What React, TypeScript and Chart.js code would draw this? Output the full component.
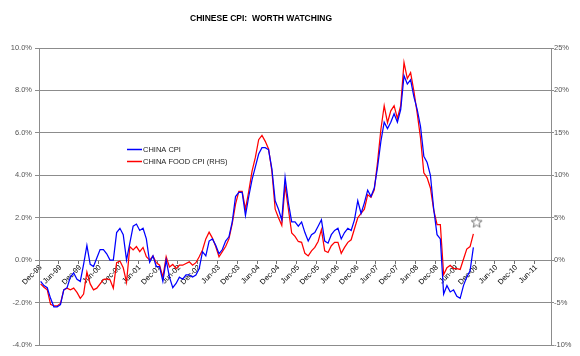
import React, { useEffect, useRef } from 'react';
import { Chart, registerables } from 'chart.js';

Chart.register(...registerables);

// ---- Categories (monthly, Dec-98 .. Oct-11) ----
const MONTH_NAMES = ['Jan', 'Feb', 'Mar', 'Apr', 'May', 'Jun', 'Jul', 'Aug', 'Sep', 'Oct', 'Nov', 'Dec'];
const START_YEAR = 1998;
const START_MONTH = 11; // Dec
const CATEGORY_COUNT = 155;
const LABEL_EVERY = 6;
const categories: string[] = Array.from({ length: CATEGORY_COUNT }, (_, i) => {
  const m = (START_MONTH + i) % 12;
  const y = START_YEAR + Math.floor((START_MONTH + i) / 12);
  return `${MONTH_NAMES[m]}-${String(y % 100).padStart(2, '0')}`;
});

// ---- China CPI, y/y % (left axis), Dec-98 .. Nov-09 ----
const cpi1998 = [-1.0];
const cpi1999 = [-1.2, -1.3, -1.8, -2.2, -2.2, -2.1, -1.4, -1.3, -0.8, -0.6, -0.9, -1.0];
const cpi2000 = [-0.2, 0.7, -0.2, -0.3, 0.1, 0.5, 0.5, 0.3, 0.0, 0.0, 1.3, 1.5];
const cpi2001 = [1.2, 0.0, 0.8, 1.6, 1.7, 1.4, 1.5, 1.0, -0.1, 0.2, -0.3, -0.3];
const cpi2002 = [-1.0, 0.0, -0.8, -1.3, -1.1, -0.8, -0.9, -0.7, -0.7, -0.8, -0.7, -0.4];
const cpi2003 = [0.4, 0.2, 0.9, 1.0, 0.7, 0.3, 0.5, 0.9, 1.1, 1.8, 3.0, 3.2];
const cpi2004 = [3.2, 2.1, 3.0, 3.8, 4.4, 5.0, 5.3, 5.3, 5.2, 4.3, 2.8, 2.4];
const cpi2005 = [1.9, 3.9, 2.7, 1.8, 1.8, 1.6, 1.8, 1.3, 0.9, 1.2, 1.3, 1.6];
const cpi2006 = [1.9, 0.9, 0.8, 1.2, 1.4, 1.5, 1.0, 1.3, 1.5, 1.4, 1.9, 2.8];
const cpi2007 = [2.2, 2.7, 3.3, 3.0, 3.4, 4.4, 5.6, 6.5, 6.2, 6.5, 6.9, 6.5];
const cpi2008 = [7.1, 8.7, 8.3, 8.5, 7.7, 7.1, 6.3, 4.9, 4.6, 4.0, 2.4, 1.2];
const cpi2009 = [1.0, -1.6, -1.2, -1.5, -1.4, -1.7, -1.8, -1.2, -0.8, -0.5, 0.6];

// ---- China Food CPI, y/y % (right axis), Dec-98 .. Nov-09 ----
const food1998 = [-2.8];
const food1999 = [-3.2, -3.5, -5.2, -5.4, -5.4, -5.1, -3.5, -3.3, -3.5, -3.3, -3.8, -4.5];
const food2000 = [-4.0, -1.4, -2.8, -3.5, -3.3, -2.8, -2.3, -2.2, -2.3, -3.3, -0.3, -0.1];
const food2001 = [-0.9, -2.6, 1.6, 1.2, 1.6, 1.0, 1.5, 0.4, 0.0, 0.5, -0.3, -0.6];
const food2002 = [-2.0, 0.4, -0.8, -0.5, -1.0, -0.6, -0.6, -0.4, -0.2, -0.6, -0.3, 0.4];
const food2003 = [1.2, 2.5, 3.3, 2.6, 1.6, 0.4, 1.0, 1.6, 2.5, 4.3, 6.6, 8.1];
const food2004 = [8.1, 6.0, 8.1, 10.5, 12.1, 14.2, 14.7, 14.0, 13.1, 10.5, 6.0, 5.0];
const food2005 = [4.1, 8.8, 6.0, 3.2, 2.8, 2.2, 2.1, 0.8, 0.5, 1.1, 1.5, 2.2];
const food2006 = [3.6, 1.1, 0.9, 1.7, 2.1, 2.1, 0.8, 1.5, 2.1, 2.4, 3.7, 5.0];
const food2007 = [5.5, 6.0, 7.7, 7.4, 8.3, 11.6, 15.4, 18.2, 16.2, 17.6, 18.2, 16.7];
const food2008 = [18.2, 23.3, 21.4, 22.1, 19.9, 17.3, 14.4, 10.3, 9.7, 8.5, 5.9, 4.2];
const food2009 = [4.2, -1.7, -0.9, -0.6, -1.0, -1.0, -1.1, 0.1, 1.3, 1.6, 3.1];

const cpi = [
  ...cpi1998, ...cpi1999, ...cpi2000, ...cpi2001, ...cpi2002, ...cpi2003,
  ...cpi2004, ...cpi2005, ...cpi2006, ...cpi2007, ...cpi2008, ...cpi2009,
];
const foodCpi = [
  ...food1998, ...food1999, ...food2000, ...food2001, ...food2002, ...food2003,
  ...food2004, ...food2005, ...food2006, ...food2007, ...food2008, ...food2009,
];

// ---- Marker (star) ----
const starLabel = 'Dec-09';
const starValue = 1.8;

const TITLE = 'CHINESE CPI:  WORTH WATCHING';
const SERIES_NAMES = ['CHINA CPI', 'CHINA FOOD CPI (RHS)'];
const SERIES_COLORS = ['#0000ff', '#ff0000'];

const FONT_FAMILY = "'Liberation Sans', Arial, sans-serif";
const GRID_COLOR = '#8c8c8c';

function makeStar(): HTMLCanvasElement {
  const c = document.createElement('canvas');
  c.width = 13;
  c.height = 13;
  const g = c.getContext('2d')!;
  g.beginPath();
  for (let k = 0; k < 10; k++) {
    const r = k % 2 === 0 ? 5.8 : 2.5;
    const a = -Math.PI / 2 + (k * Math.PI) / 5;
    const px = 6.5 + r * Math.cos(a);
    const py = 7 + r * Math.sin(a);
    if (k === 0) g.moveTo(px, py);
    else g.lineTo(px, py);
  }
  g.closePath();
  g.fillStyle = '#ffffff';
  g.fill();
  g.strokeStyle = '#707070';
  g.lineWidth = 1;
  g.stroke();
  return c;
}

const titlePlugin = {
  id: 'customTitle',
  afterDraw(chart: any) {
    const ctx = chart.ctx;
    ctx.save();
    ctx.font = `bold 8.5px ${FONT_FAMILY}`;
    ctx.fillStyle = '#000';
    ctx.textAlign = 'center';
    ctx.textBaseline = 'middle';
    ctx.fillText(TITLE, 261, 19);
    ctx.restore();
  },
};

const legendPlugin = {
  id: 'insideLegend',
  afterDatasetsDraw(chart: any) {
    const ctx = chart.ctx;
    ctx.save();
    ctx.font = `7.5px ${FONT_FAMILY}`;
    ctx.textBaseline = 'middle';
    ctx.textAlign = 'left';
    SERIES_NAMES.forEach((name, i) => {
      const y = 149.5 + i * 12;
      ctx.strokeStyle = SERIES_COLORS[i];
      ctx.lineWidth = 1.5;
      ctx.beginPath();
      ctx.moveTo(127, y);
      ctx.lineTo(142, y);
      ctx.stroke();
      ctx.fillStyle = '#222';
      ctx.fillText(name, 143, y);
    });
    ctx.restore();
  },
};

export default function App() {
  const canvasRef = useRef<HTMLCanvasElement | null>(null);

  useEffect(() => {
    if (!canvasRef.current) return;
    const star = makeStar();
    const tickFont = { family: FONT_FAMILY, size: 7.5 };
    const chart = new Chart(canvasRef.current, {
      type: 'line',
      data: {
        labels: categories,
        datasets: [
          {
            label: SERIES_NAMES[0],
            data: cpi,
            borderColor: SERIES_COLORS[0],
            backgroundColor: SERIES_COLORS[0],
            borderWidth: 1.25,
            pointRadius: 0,
            tension: 0,
            yAxisID: 'y',
          },
          {
            label: SERIES_NAMES[1],
            data: foodCpi,
            borderColor: SERIES_COLORS[1],
            backgroundColor: SERIES_COLORS[1],
            borderWidth: 1.25,
            pointRadius: 0,
            tension: 0,
            yAxisID: 'y1',
          },
          {
            label: 'marker',
            data: categories.map((c) => (c === starLabel ? starValue : null)),
            showLine: false,
            pointStyle: star as any,
            pointRadius: 6,
            yAxisID: 'y',
          },
        ],
      },
      options: {
        responsive: false,
        animation: false,
        devicePixelRatio: 1,
        layout: { padding: { top: 48, bottom: 11, left: 0, right: 0 } },
        plugins: {
          legend: { display: false },
          tooltip: { enabled: false },
          title: { display: false },
        },
        scales: {
          x: {
            type: 'category',
            position: { y: 0 } as any,
            offset: true,
            grid: {
              display: true,
              drawOnChartArea: false,
              drawTicks: true,
              tickLength: 3,
              offset: true,
              color: (ctx: any) =>
                typeof ctx.index === 'number' && ctx.index % LABEL_EVERY === 0 ? '#707070' : 'rgba(0,0,0,0)',
            },
            border: { display: true, color: GRID_COLOR },
            ticks: {
              autoSkip: false,
              maxRotation: 45,
              minRotation: 45,
              padding: 0,
              color: '#000',
              font: tickFont,
              callback: (_v: any, i: number) => (i % LABEL_EVERY === 0 ? categories[i] : ''),
            },
          },
          y: {
            position: 'left',
            min: -4,
            max: 10,
            afterFit: (s: any) => {
              s.width = 39;
            },
            grid: { color: GRID_COLOR, tickLength: 4 },
            border: { color: GRID_COLOR },
            ticks: {
              stepSize: 2,
              padding: 3,
              color: '#555',
              font: tickFont,
              callback: (v: any) => `${Number(v).toFixed(1)}%`,
            },
          },
          y1: {
            position: 'right',
            min: -10,
            max: 25,
            afterFit: (s: any) => {
              s.width = 29;
            },
            grid: { drawOnChartArea: false, color: GRID_COLOR, tickLength: 3 },
            border: { color: GRID_COLOR },
            ticks: {
              stepSize: 5,
              padding: 0,
              color: '#555',
              font: tickFont,
              callback: (v: any) => `${v}%`,
            },
          },
        },
      },
      plugins: [titlePlugin, legendPlugin],
    });
    return () => chart.destroy();
  }, []);

  return (
    <div style={{ position: 'fixed', left: 0, top: 0, width: 580, height: 356, background: '#fff' }}>
      <canvas ref={canvasRef} width={580} height={356} style={{ width: 580, height: 356, display: 'block' }} />
    </div>
  );
}
